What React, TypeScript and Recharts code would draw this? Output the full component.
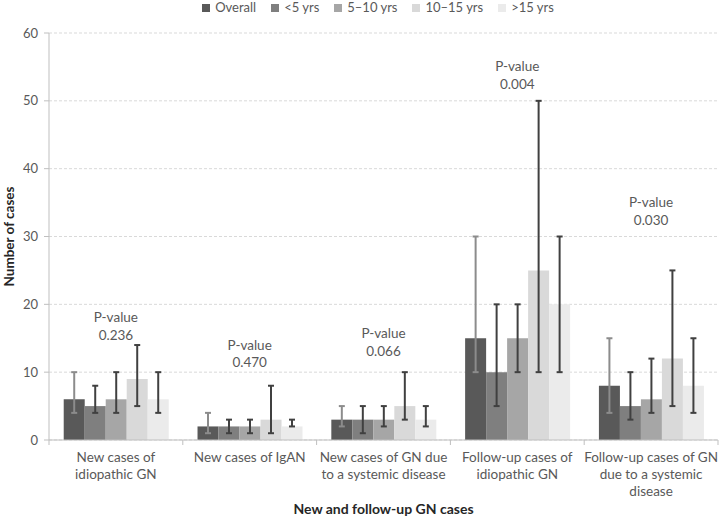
import React from 'react';
import {
  ComposedChart,
  Bar,
  ErrorBar,
  XAxis,
  YAxis,
  CartesianGrid,
  Legend,
  ReferenceDot,
} from 'recharts';

// group names on the x axis, and how each one is broken over lines
const categories = [
  'New cases of idiopathic GN',
  'New cases of IgAN',
  'New cases of GN due to a systemic disease',
  'Follow-up cases of idiopathic GN',
  'Follow-up cases of GN due to a systemic disease',
];
const tickLines = [
  ['New cases of', 'idiopathic GN'],
  ['New cases of IgAN'],
  ['New cases of GN due', 'to a systemic disease'],
  ['Follow-up cases of', 'idiopathic GN'],
  ['Follow-up cases of GN', 'due to a systemic', 'disease'],
];

const seriesNames = ['Overall', '<5 yrs', '5–10 yrs', '10–15 yrs', '>15 yrs'];

// bar value, lower and upper end of the whisker, per group
const overall = [6, 2, 3, 15, 8];
const overallLow = [4, 1, 2, 10, 4];
const overallHigh = [10, 4, 5, 30, 15];

const under5 = [5, 2, 3, 10, 5];
const under5Low = [4, 1, 1, 5, 3];
const under5High = [8, 3, 5, 20, 10];

const age5to10 = [6, 2, 3, 15, 6];
const age5to10Low = [4, 1, 2, 10, 4];
const age5to10High = [10, 3, 5, 20, 12];

const age10to15 = [9, 3, 5, 25, 12];
const age10to15Low = [5, 1, 3, 10, 5];
const age10to15High = [14, 8, 10, 50, 25];

const over15 = [6, 2, 3, 20, 8];
const over15Low = [4, 2, 2, 10, 4];
const over15High = [10, 3, 5, 30, 15];

const pValues = ['0.236', '0.470', '0.066', '0.004', '0.030'];
const pLabelY = [18, 14, 15.7, 55, 35];

const yTicks = [0, 10, 20, 30, 40, 50, 60];

const seriesKeys = ['overall', 'under5', 'age5to10', 'age10to15', 'over15'];
const medians = [overall, under5, age5to10, age10to15, over15];
const lows = [overallLow, under5Low, age5to10Low, age10to15Low, over15Low];
const highs = [overallHigh, under5High, age5to10High, age10to15High, over15High];

const barColors = ['#595959', '#7f7f7f', '#a6a6a6', '#d9d9d9', '#ebebeb'];
const whiskerColors = ['#8c8c8c', '#404040', '#404040', '#404040', '#404040'];

const data = categories.map((category, i) => {
  const row: Record<string, any> = { category };
  seriesKeys.forEach((k, s) => {
    row[k] = medians[s][i];
    row[k + 'Err'] = [medians[s][i] - lows[s][i], highs[s][i] - medians[s][i]];
  });
  return row;
});

const FONT = 'Lato, "Open Sans", sans-serif';
const GREY_TEXT = '#595959';
const AXIS = '#bfbfbf';

const CategoryTick = (props: any) => {
  const { x, y, payload, index } = props;
  const lines = tickLines[index] || [String(payload.value)];
  const half = payload.offset || 67;
  const axisY = y - 7;
  return (
    <g>
      <line x1={x - half} y1={axisY} x2={x - half} y2={axisY + 5} stroke={AXIS} />
      {index === categories.length - 1 && (
        <line x1={x + half} y1={axisY} x2={x + half} y2={axisY + 5} stroke={AXIS} />
      )}
      <text x={x} y={y} textAnchor="middle" fill={GREY_TEXT} fontSize={13.5} fontFamily={FONT}>
        {lines.map((l: string, i: number) => (
          <tspan key={i} x={x} dy={i === 0 ? 15 : 17}>
            {l}
          </tspan>
        ))}
      </text>
    </g>
  );
};

const LegendContent = () => (
  <div
    style={{
      height: 33,
      display: 'flex',
      justifyContent: 'center',
      paddingLeft: 38,
      paddingTop: 0,
      gap: 15,
      fontFamily: FONT,
      fontSize: 13,
      lineHeight: '15px',
      color: GREY_TEXT,
      boxSizing: 'border-box',
    }}
  >
    {seriesNames.map((name, s) => (
      <div key={name} style={{ display: 'flex', alignItems: 'center', height: 15 }}>
        <span style={{ width: 8, height: 8, background: barColors[s], marginRight: 5 }} />
        <span>{name}</span>
      </div>
    ))}
  </div>
);

export default function App() {
  return (
    <div style={{ position: 'absolute', left: 0, top: 0, fontFamily: FONT, background: '#fff' }}>
      <ComposedChart
        width={720}
        height={518}
        data={data}
        margin={{ top: 0, right: 2, left: 0, bottom: 0 }}
        barCategoryGap="11%"
        barGap={0}
      >
        <Legend
          verticalAlign="top"
          align="center"
          content={<LegendContent />}
          wrapperStyle={{ top: 0, left: 0, width: 718 }}
        />
        <CartesianGrid vertical={false} stroke="#d9d9d9" strokeDasharray="3 2" />
        <XAxis
          dataKey="category"
          height={78}
          interval={0}
          tick={<CategoryTick />}
          tickLine={false}
          tickSize={5}
          stroke={AXIS}
          label={{
            content: ({ viewBox }: any) => (
              <text
                x={viewBox.x + viewBox.width / 2}
                y={viewBox.y + 74}
                textAnchor="middle"
                fontFamily={FONT}
                fontSize={14}
                fontWeight="bold"
                fill="#262626"
              >
                New and follow-up GN cases
              </text>
            ),
          }}
        />
        <YAxis
          width={49}
          domain={[0, 60]}
          ticks={yTicks}
          interval={0}
          tickSize={5}
          tickMargin={6}
          stroke={AXIS}
          tick={{ fill: GREY_TEXT, fontSize: 13, fontFamily: FONT }}
          label={{
            content: ({ viewBox }: any) => {
              const cx = viewBox.x + 9;
              const cy = viewBox.y + viewBox.height / 2;
              return (
                <text
                  x={cx}
                  y={cy}
                  transform={`rotate(-90 ${cx} ${cy})`}
                  textAnchor="middle"
                  dominantBaseline="central"
                  fontFamily={FONT}
                  fontSize={13.5}
                  fontWeight="bold"
                  fill="#262626"
                >
                  Number of cases
                </text>
              );
            },
          }}
        />
        {seriesKeys.map((k, s) => (
          <Bar key={k} dataKey={k} name={seriesNames[s]} fill={barColors[s]} isAnimationActive={false}>
            <ErrorBar
              dataKey={k + 'Err'}
              width={3}
              strokeWidth={2}
              stroke={whiskerColors[s]}
              isAnimationActive={false}
            />
          </Bar>
        ))}
        {categories.map((c, i) => (
          <ReferenceDot
            key={c}
            x={c}
            y={pLabelY[i]}
            r={0}
            fill="none"
            stroke="none"
            label={{
              content: ({ viewBox }: any) => {
                const cx = viewBox.x + (viewBox.width || 0) / 2;
                const cy = viewBox.y + (viewBox.height || 0) / 2;
                return (
                  <text textAnchor="middle" fontFamily={FONT} fontSize={13.5} fill={GREY_TEXT}>
                    <tspan x={cx} y={cy + 4.5}>
                      P-value
                    </tspan>
                    <tspan x={cx} y={cy + 22}>
                      {pValues[i]}
                    </tspan>
                  </text>
                );
              },
            }}
          />
        ))}
      </ComposedChart>
    </div>
  );
}
